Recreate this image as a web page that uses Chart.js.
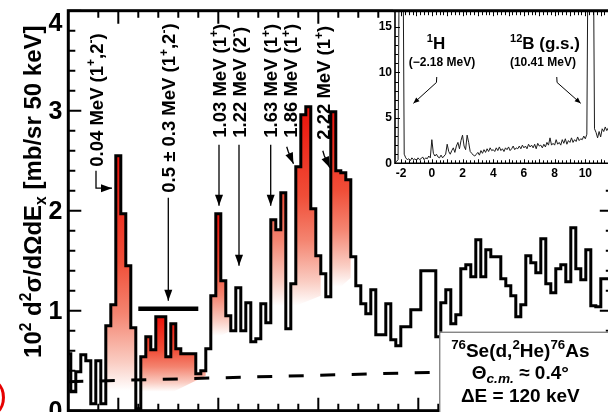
<!DOCTYPE html>
<html>
<head>
<meta charset="utf-8">
<script src="https://cdn.jsdelivr.net/npm/chart.js@4.4.1/dist/chart.umd.min.js"></script>
<style>
  html, body { margin: 0; padding: 0; background: #fff; overflow: hidden; }
  #wrap { position: relative; width: 608px; height: 412px; overflow: hidden; background: #fff; }
  #main { position: absolute; left: 0; top: 0; }
  #inset { position: absolute; left: 350px; top: 0; }
</style>
</head>
<body>
<div id="wrap">
  <canvas id="main" width="640" height="440"></canvas>
  <canvas id="inset" width="290" height="200"></canvas>
</div>
<script>
// 76Se(d,2He)76As excitation spectrum, 50 keV bins (centres from -0.5 MeV)
const binStart = -0.5;
const binWidth = 0.05;
const counts = [
  0.57, 0.19, 0.39, 0.56, 0.50, 0.07, 0.50, 0.07, 0.85, 1.06,   // -0.50 .. -0.05
  2.55, 1.97, 1.45, 0.83, 0.02, 0.54, 0.74, 0.61, 0.94, 0.94,   //  0.00 ..  0.45
  0.54, 0.87, 0.62, 0.57, 0.57, 0.57, 0.37, 0.40, 0.62, 1.15,   //  0.50 ..  0.95
  1.97, 1.30, 0.95, 0.80, 1.23, 0.80, 1.08, 0.69, 0.72, 1.07,   //  1.00 ..  1.45
  0.88, 1.91, 1.81, 2.18, 0.82, 1.27, 2.44, 2.96, 3.04, 2.02,   //  1.50 ..  1.95
  1.55, 1.37, 1.14, 2.99, 2.40, 2.38, 2.31, 1.54, 1.25, 1.07,   //  2.00 ..  2.45
  0.97, 1.21, 0.76, 0.76, 1.07, 0.71, 0.65, 0.84, 0.84, 1.01,   //  2.50 ..  2.95
  1.01, 1.40, 1.40, 1.40, 0.74, 1.08, 1.21, 0.87, 0.96, 1.42,   //  3.00 ..  3.45
  1.46, 1.34, 1.71, 1.34, 1.61, 1.54, 1.54, 1.32, 1.25, 1.15,   //  3.50 ..  3.95
  0.94, 1.06, 1.55, 1.48, 1.38, 1.72, 1.27, 1.18, 1.42, 1.46,   //  4.00 ..  4.45
  1.29, 1.83, 1.42, 1.31, 1.61, 1.05, 1.04, 1.32, 1.32, 1.30    //  4.50 ..  4.95
];

// shaded peak groups: bin index range and the lower edge of the shading
const groupFirst  = [8, 15, 29, 41, 53];
const groupLast   = [13, 27, 32, 50, 56];
const groupFloorL = [0.20, 0.03, 0.70, 0.95, 1.15];
const groupFloorR = [0.20, 0.35, 0.80, 1.15, 1.33];

// smooth background estimate (dashed)
const bgEnergy = [-0.5, 4.95];
const bgLevel  = [0.29, 0.43];

// broad 0.5 ± 0.3 MeV structure
const broadCentre = 0.5;
const broadSpread = 0.3;
const broadLevel  = 1.02;

const yTickLabels = [0, 1, 2, 3, 4];

// inset: full range spectrum, 0.1 MeV steps from -2.4 MeV
const insetStart = -2.4;
const insetStep = 0.1;
const insetCounts = [
  0, 0.2, 0.4, 30, 30, 30, 1.0, 0.6, 0.4, 0.5,
  0.3, 0.6, 0.4, 0.5, 0.3, 0.6, 0.4, 0.5, 0.7, 0.4,
  0.6, 0.5, 0.8, 0.6, 2.6, 1.1, 0.8, 1.0, 0.7, 0.6,
  0.9, 0.6, 0.8, 1.0, 2.1, 1.3, 1.0, 1.4, 1.7, 1.2,
  1.9, 2.3, 1.6, 2.5, 3.1, 1.9, 1.5, 3.1, 2.3, 1.3,
  1.1, 0.9, 0.8, 1.0, 1.2, 0.9, 1.4, 1.1, 1.5, 1.2,
  1.6, 1.3, 1.7, 1.4, 1.5, 1.3, 1.7, 1.4, 1.8, 1.4,
  1.6, 1.3, 1.7, 1.5, 1.8, 1.4, 1.6, 1.9, 1.5, 1.7,
  1.6, 1.9, 1.6, 2.0, 1.7, 1.9, 1.6, 2.1, 1.8, 2.0,
  1.7, 2.1, 1.6, 2.2, 1.9, 2.0, 1.7, 2.1, 1.8, 2.3,
  2.0, 2.8, 2.0, 2.2, 2.0, 2.6, 2.1, 2.3, 2.0, 2.6,
  2.2, 2.7, 2.1, 2.5, 2.3, 2.8, 2.3, 2.6, 2.4, 2.9,
  2.5, 2.7, 2.6, 3.0, 2.7, 3.2, 30, 30, 30, 30,
  3.8, 3.4, 2.8, 3.5, 2.9, 3.8, 3.5, 4.0, 3.6, 3.9,
  3.5, 3.8, 3.6, 3.9
];

const yTitle = '10^{2} d^{2}σ/dΩdE_{x} [mb/sr 50 keV]';
const stateLabels = ['0.04 MeV (1^{+},2^{-})', '0.5 ± 0.3 MeV (1^{+},2^{-})', '1.03 MeV (1^{+})',
  '1.22 MeV (2^{-})', '1.63 MeV (1^{+})', '1.86 MeV (1^{+})', '2.22 MeV (1^{+})'];
const boxLines = ['^{76}Se(d,^{2}He)^{76}As', 'Θ_{c.m.} ≈ 0.4°', 'ΔE = 120 keV'];

// ---------------------------------------------------------------------------

const fam = '"Liberation Sans", Arial, Helvetica, sans-serif';

// text with ^{..} / _{..} runs
function parseRich(str) {
  const out = [];
  const re = /([\^_])\{([^}]*)\}|([^\^_]+)/g;
  let m;
  while ((m = re.exec(str))) {
    if (m[3]) out.push({ t: m[3], k: '' });
    else out.push({ t: m[2], k: m[1] === '^' ? 'sup' : 'sub' });
  }
  return out;
}

function drawRich(ctx, str, x, y, o) {
  const size = o.size;
  const small = size * (o.supScale || 0.65);
  const segs = parseRich(str);
  const fontOf = s => `${s.k === 'sub' && o.italicSub ? 'italic ' : ''}bold ${s.k ? small : size}px ${fam}`;
  let total = 0;
  segs.forEach(s => { ctx.font = fontOf(s); s.w = ctx.measureText(s.t).width; total += s.w; });
  ctx.save();
  ctx.translate(x, y);
  ctx.rotate(o.rotate || 0);
  ctx.fillStyle = o.color || '#000';
  ctx.textAlign = 'left';
  ctx.textBaseline = 'alphabetic';
  let cx = o.align === 'center' ? -total / 2 : 0;
  const base = size * 0.36;
  segs.forEach(s => {
    ctx.font = fontOf(s);
    const dy = s.k === 'sup' ? -size * 0.4 : s.k === 'sub' ? size * 0.24 : 0;
    ctx.fillText(s.t, cx, base + dy);
    cx += s.w;
  });
  ctx.restore();
}

function arrow(ctx, pts, head, half) {
  ctx.beginPath();
  pts.forEach((p, i) => i ? ctx.lineTo(p[0], p[1]) : ctx.moveTo(p[0], p[1]));
  ctx.stroke();
  const [x1, y1] = pts[pts.length - 2];
  const [x2, y2] = pts[pts.length - 1];
  const a = Math.atan2(y2 - y1, x2 - x1);
  const bx = x2 - head * Math.cos(a), by = y2 - head * Math.sin(a);
  ctx.beginPath();
  ctx.moveTo(x2, y2);
  ctx.lineTo(bx + half * Math.sin(a), by - half * Math.cos(a));
  ctx.lineTo(bx - half * Math.sin(a), by + half * Math.cos(a));
  ctx.closePath();
  ctx.fill();
}

const isMult = (v, s) => Math.abs(v / s - Math.round(v / s)) < 1e-6;

// ---------------------------------------------------------------------------
// main spectrum

const binCentres = counts.map((_, i) => +(binStart + i * binWidth).toFixed(3));
const histPoints = counts.map((c, i) => ({ x: binCentres[i], y: c }));

function shade(top, bottom) {
  return ctx => {
    const chart = ctx.chart;
    const { chartArea, scales } = chart;
    if (!chartArea || !scales.y) return 'rgba(240,60,40,0.5)';
    const y0 = scales.y.getPixelForValue(top), y1 = scales.y.getPixelForValue(bottom);
    const g = chart.ctx.createLinearGradient(0, y0, 0, y1);
    g.addColorStop(0, 'rgb(236,18,10)');
    g.addColorStop(0.45, 'rgb(240,78,56)');
    g.addColorStop(0.67, 'rgb(244,132,112)');
    g.addColorStop(0.88, 'rgb(250,205,195)');
    g.addColorStop(1, 'rgb(255,255,255)');
    return g;
  };
}

const datasets = [
  { // histogram outline
    data: histPoints, stepped: 'middle', borderColor: '#000', borderWidth: 3,
    borderJoinStyle: 'miter', pointRadius: 0, fill: false
  },
  { // background
    data: bgEnergy.map((e, i) => ({ x: e, y: bgLevel[i] })), borderColor: '#000', borderWidth: 3,
    borderDash: [15, 16.5], borderCapStyle: 'butt', pointRadius: 0, fill: false
  },
  { // 0.5 ± 0.3 MeV range bar
    data: [{ x: broadCentre - broadSpread, y: broadLevel }, { x: broadCentre + broadSpread, y: broadLevel }],
    borderColor: '#000', borderWidth: 4.5, borderCapStyle: 'butt', pointRadius: 0, fill: false
  }
];

groupFirst.forEach((first, g) => {
  const last = groupLast[g];
  const left = binCentres[first] - binWidth / 2, right = binCentres[last] + binWidth / 2;
  const pts = [{ x: left, y: counts[first] }];
  for (let k = first; k <= last; k++) pts.push({ x: binCentres[k], y: counts[k] });
  pts.push({ x: right, y: counts[last] });
  const peak = Math.max(...counts.slice(first, last + 1));
  const floorMid = (groupFloorL[g] + groupFloorR[g]) / 2;
  const floorIndex = datasets.length + 1;
  datasets.push({
    data: pts, stepped: 'middle', borderWidth: 0, borderColor: 'rgba(0,0,0,0)', pointRadius: 0,
    fill: { target: floorIndex }, backgroundColor: shade(peak, floorMid)
  });
  datasets.push({
    data: [{ x: left, y: groupFloorL[g] }, { x: right, y: groupFloorR[g] }],
    borderWidth: 0, borderColor: 'rgba(0,0,0,0)', pointRadius: 0, fill: false
  });
});

// annotation placement (MeV, cross-section units)
const labelAt = [[-0.223, 2.44], [0.5, 2.18], [1.007, 2.73], [1.207, 2.73], [1.524, 2.73], [1.724, 2.73], [2.05, 2.71]];
const labelArrows = [
  [[-0.223, 2.40], [-0.223, 2.225], [-0.063, 2.225]],
  [[0.5, 2.13], [0.5, 1.10]],
  [[1.007, 2.66], [1.007, 2.05]],
  [[1.207, 2.66], [1.207, 1.45]],
  [[1.524, 2.66], [1.524, 2.05]],
  [[1.684, 2.64], [1.70, 2.59], [1.752, 2.47]],
  [[2.045, 2.60], [2.06, 2.55], [2.115, 2.43]]
];

const mainDecor = {
  id: 'mainDecor',
  afterDatasetsDraw(chart) {
    const { ctx, chartArea: a, scales: { x, y } } = chart;
    ctx.save();
    ctx.strokeStyle = '#000';
    ctx.fillStyle = '#000';

    // inward ticks on all four sides
    ctx.lineWidth = 2;
    ctx.beginPath();
    x.ticks.forEach(t => {
      if (!isMult(t.value, 0.2)) return;
      const px = x.getPixelForValue(t.value);
      const len = isMult(t.value, 1) ? 13 : 7;
      ctx.moveTo(px, a.top); ctx.lineTo(px, a.top + len);
      ctx.moveTo(px, a.bottom); ctx.lineTo(px, a.bottom - len);
    });
    y.ticks.forEach(t => {
      if (!isMult(t.value, 0.2)) return;
      const py = y.getPixelForValue(t.value);
      const len = isMult(t.value, 1) ? 13 : 7;
      ctx.moveTo(a.left, py); ctx.lineTo(a.left + len, py);
      ctx.moveTo(a.right, py); ctx.lineTo(a.right - len, py);
    });
    ctx.stroke();

    ctx.lineWidth = 3;
    ctx.strokeRect(a.left, a.top, a.right - a.left, a.bottom - a.top);

    // y tick labels
    ctx.font = `bold 25px ${fam}`;
    ctx.textAlign = 'right';
    ctx.textBaseline = 'middle';
    yTickLabels.forEach(v => {
      const py = Math.max(y.getPixelForValue(v), a.top + 12);
      ctx.fillText(String(v), a.left - 6, py + 1);
    });

    // axis title
    drawRich(ctx, yTitle, 32, (a.top + a.bottom) / 2 - 19, { size: 24, rotate: -Math.PI / 2, align: 'center' });

    // level labels and arrows
    stateLabels.forEach((s, i) => {
      const [e, v] = labelAt[i];
      drawRich(ctx, s, x.getPixelForValue(e), y.getPixelForValue(v), { size: 18.5, rotate: -Math.PI / 2 });
    });
    ctx.lineWidth = 1.3;
    labelArrows.forEach(p => {
      arrow(ctx, p.map(([e, v]) => [x.getPixelForValue(e), y.getPixelForValue(v)]), 11, 4);
    });

    // reaction box
    const bx = x.getPixelForValue(3.21), by = y.getPixelForValue(0.79);
    ctx.fillStyle = '#fff';
    ctx.fillRect(bx, by, 300, 200);
    ctx.strokeStyle = '#555';
    ctx.lineWidth = 1;
    ctx.strokeRect(bx + 0.5, by + 0.5, 300, 200);
    const cx = bx + 81;
    drawRich(ctx, boxLines[0], cx, by + 18, { size: 19, align: 'center', supScale: 0.7 });
    drawRich(ctx, boxLines[1], cx, by + 40, { size: 19, align: 'center', italicSub: true, supScale: 0.72 });
    drawRich(ctx, boxLines[2], cx, by + 63.5, { size: 19, align: 'center' });

    // red panel mark at the left edge
    ctx.fillStyle = 'rgb(230,0,0)';
    ctx.font = `34px ${fam}`;
    ctx.textAlign = 'right';
    ctx.textBaseline = 'alphabetic';
    ctx.fillText(')', 7, 406);
    ctx.restore();
  }
};

new Chart(document.getElementById('main'), {
  type: 'line',
  data: { datasets },
  options: {
    responsive: false,
    animation: false,
    devicePixelRatio: 1,
    events: [],
    layout: { padding: { left: 0, top: 10.7, right: 27.2, bottom: 0 } },
    plugins: { legend: { display: false }, tooltip: { enabled: false } },
    scales: {
      x: {
        type: 'linear', min: -0.5, max: 4.945,
        ticks: { display: false, stepSize: 0.2 },
        grid: { display: false, drawTicks: false }, border: { display: false },
        afterFit: s => { s.height = 29.3; }
      },
      y: {
        type: 'linear', min: 0, max: 4,
        ticks: { display: false, stepSize: 0.2 },
        grid: { display: false, drawTicks: false }, border: { display: false },
        afterFit: s => { s.width = 68.3; }
      }
    }
  },
  plugins: [mainDecor]
});

// ---------------------------------------------------------------------------
// inset

const insetPoints = insetCounts.map((c, i) => ({ x: +(insetStart + i * insetStep).toFixed(2), y: c }));

const insetNotes = [
  { text: '^{1}H', at: [0.27, 13.3], size: 17 },
  { text: '(−2.18 MeV)', at: [0.66, 11.15], size: 12 },
  { text: '^{12}B (g.s.)', at: [7.37, 13.3], size: 17 },
  { text: '(10.41 MeV)', at: [7.24, 11.15], size: 12 }
];
const insetArrows = [
  [[0.32, 9.5], [0.30, 8.9], [-1.2, 6.6]],
  [[8.14, 9.5], [8.16, 8.9], [9.7, 6.6]]
];

const insetDecor = {
  id: 'insetDecor',
  beforeDraw(chart) {
    const { ctx, chartArea: a } = chart;
    ctx.save();
    ctx.fillStyle = '#fff';
    ctx.fillRect(a.left - 2, a.top - 2, a.right - a.left + 4, a.bottom - a.top + 20);
    ctx.restore();
  },
  afterDatasetsDraw(chart) {
    const { ctx, chartArea: a, scales: { x, y } } = chart;
    ctx.save();
    ctx.strokeStyle = '#000';
    ctx.fillStyle = '#000';
    ctx.lineWidth = 1;
    ctx.beginPath();
    x.ticks.forEach(t => {
      if (!isMult(t.value, 0.25)) return;
      const px = Math.round(x.getPixelForValue(t.value)) + 0.5;
      const len = isMult(t.value, 1) ? 4 : 3;
      ctx.moveTo(px, a.top); ctx.lineTo(px, a.top + 1.5 + len);
      ctx.moveTo(px, a.bottom); ctx.lineTo(px, a.bottom - len);
    });
    y.ticks.forEach(t => {
      if (!isMult(t.value, 1)) return;
      const py = Math.round(y.getPixelForValue(t.value)) + 0.5;
      const len = isMult(t.value, 5) ? 5 : 3;
      ctx.moveTo(a.left, py); ctx.lineTo(a.left + len, py);
    });
    ctx.stroke();

    ctx.lineWidth = 1.6;
    ctx.beginPath();
    ctx.moveTo(a.left, a.top); ctx.lineTo(a.left, a.bottom); ctx.lineTo(a.right, a.bottom);
    ctx.stroke();
    ctx.lineWidth = 3;
    ctx.beginPath();
    ctx.moveTo(a.left - 2, a.top); ctx.lineTo(a.right, a.top);
    ctx.stroke();

    insetNotes.forEach(n => {
      drawRich(ctx, n.text, x.getPixelForValue(n.at[0]), y.getPixelForValue(n.at[1]), { size: n.size, align: 'center' });
    });
    ctx.lineWidth = 1;
    insetArrows.forEach(p => {
      arrow(ctx, p.map(([e, v]) => [x.getPixelForValue(e), y.getPixelForValue(v)]), 6, 2.5);
    });
    ctx.restore();
  }
};

new Chart(document.getElementById('inset'), {
  type: 'line',
  data: {
    datasets: [{
      data: insetPoints, borderColor: '#1c1c1c', borderWidth: 1, pointRadius: 0, fill: false, tension: 0
    }]
  },
  options: {
    responsive: false,
    animation: false,
    devicePixelRatio: 1,
    events: [],
    layout: { padding: { left: 0, top: 10.7, right: 24, bottom: 0 } },
    plugins: { legend: { display: false }, tooltip: { enabled: false } },
    scales: {
      x: {
        type: 'linear', min: -2.4, max: 12,
        ticks: {
          stepSize: 0.25, autoSkip: false, maxRotation: 0, minRotation: 0, padding: 3, color: '#000',
          font: { family: fam, weight: 'bold', size: 12 },
          callback: v => isMult(v, 2) ? String(Math.round(v)) : ''
        },
        grid: { display: false, drawTicks: false }, border: { display: false },
        afterFit: s => { s.height = 36.7; }
      },
      y: {
        type: 'linear', min: 0, max: 16.8,
        ticks: {
          stepSize: 1, autoSkip: false, padding: 3, color: '#000',
          font: { family: fam, weight: 'bold', size: 12 },
          callback: v => isMult(v, 5) ? String(Math.round(v)) : ''
        },
        grid: { display: false, drawTicks: false }, border: { display: false },
        afterFit: s => { s.width = 45; }
      }
    }
  },
  plugins: [insetDecor]
});
</script>
</body>
</html>
